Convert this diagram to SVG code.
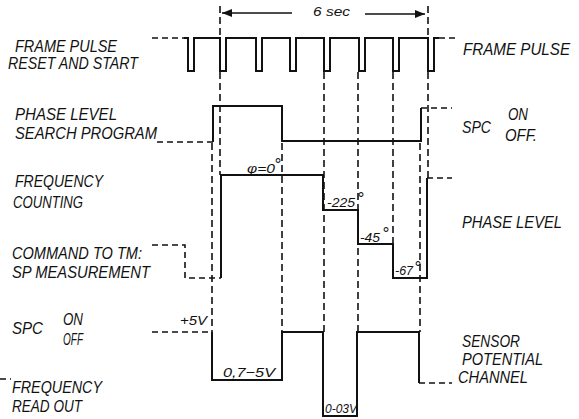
<svg xmlns="http://www.w3.org/2000/svg" width="579" height="419" viewBox="0 0 579 419">
<defs>
<style>
.bg{fill:#fff}
.s{fill:none;stroke:#111;stroke-width:2;stroke-linejoin:miter}
.d{fill:none;stroke:#111;stroke-width:1.6;stroke-dasharray:7 4}
.dh{fill:none;stroke:#111;stroke-width:1.6;stroke-dasharray:6 4}
.t{font-family:"Liberation Sans",Arial,sans-serif;font-style:italic;font-size:16px;fill:#111}
.a{font-family:"Liberation Sans",Arial,sans-serif;font-style:italic;font-size:13px;fill:#111}
.deg{font-size:17px}
.ah{fill:#111}
</style>
<marker id="arr" viewBox="0 0 10 8" refX="10" refY="4" markerWidth="12" markerHeight="8" markerUnits="userSpaceOnUse" orient="auto"><path d="M0 0 L10 4 L0 8 Z" class="ah"/></marker>
</defs>
<rect class="bg" x="0" y="0" width="579" height="419"/>

<g id="connectors">
<line class="s" x1="292" y1="13" x2="222" y2="13" marker-end="url(#arr)" style="stroke-width:1.6"/>
<line class="s" x1="365" y1="14" x2="425" y2="14" marker-end="url(#arr)" style="stroke-width:1.6"/>
<line class="d" x1="220" y1="6" x2="220" y2="175"/>
<line class="d" x1="428" y1="6" x2="428" y2="178"/>
<line class="d" x1="212" y1="143" x2="212" y2="332"/>
<line class="d" x1="282" y1="143" x2="282" y2="332"/>
<line class="d" x1="324" y1="72" x2="324" y2="332"/>
<line class="d" x1="358" y1="72" x2="358" y2="332"/>
<line class="d" x1="393" y1="72" x2="393" y2="244"/>
<line class="d" x1="420" y1="143" x2="420" y2="332"/>
</g>

<g id="frame-pulse">
<line class="dh" x1="152" y1="38" x2="185" y2="38"/>
<path class="s" d="M184 38 H188 V71 H194 V38 H220 V71 H226 V38 H256 V71 H262 V38 H290 V71 H296 V38 H324 V71 H330 V38 H359 V71 H365 V38 H393 V71 H399 V38 H428 V71 H434 V38 H439"/>
<line class="dh" x1="439" y1="38" x2="458" y2="38"/>
<text class="t" x="15" y="52" textLength="102" lengthAdjust="spacingAndGlyphs">FRAME PULSE</text>
<text class="t" x="8" y="69" textLength="130" lengthAdjust="spacingAndGlyphs">RESET AND START</text>
<text class="t" x="463" y="55" textLength="107" lengthAdjust="spacingAndGlyphs">FRAME PULSE</text>
<text class="a" x="313" y="16" textLength="37" lengthAdjust="spacingAndGlyphs">6 sec</text>
</g>

<g id="phase-level-search">
<line class="dh" x1="157" y1="142" x2="213" y2="142"/>
<path class="s" d="M213 142 V106 H282 V141 H421 V108"/>
<line class="dh" x1="421" y1="108" x2="452" y2="108"/>
<text class="t" x="15" y="120" textLength="102" lengthAdjust="spacingAndGlyphs">PHASE LEVEL</text>
<text class="t" x="15" y="139" textLength="142" lengthAdjust="spacingAndGlyphs">SEARCH PROGRAM</text>
<text class="t" x="462" y="133" textLength="29" lengthAdjust="spacingAndGlyphs">SPC</text>
<text class="t" x="508" y="120" textLength="20" lengthAdjust="spacingAndGlyphs">ON</text>
<text class="t" x="505" y="141" textLength="32" lengthAdjust="spacingAndGlyphs">OFF.</text>
</g>

<g id="frequency-counting">
<path class="s" d="M221 278 V175 H323 V210 H358 V244 H393 V278 H427 V178"/>
<line class="dh" x1="427" y1="178" x2="452" y2="178"/>
<text class="t" x="15" y="187" textLength="88" lengthAdjust="spacingAndGlyphs">FREQUENCY</text>
<text class="t" x="13" y="208" textLength="70" lengthAdjust="spacingAndGlyphs">COUNTING</text>
<text class="t" x="462" y="228" textLength="100" lengthAdjust="spacingAndGlyphs">PHASE LEVEL</text>
<text class="a" x="247" y="173" textLength="28" lengthAdjust="spacingAndGlyphs">φ=0</text>
<text class="a deg" x="274" y="170">°</text>
<text class="a" x="327" y="207" textLength="28" lengthAdjust="spacingAndGlyphs">-225</text>
<text class="a deg" x="357" y="204">°</text>
<text class="a" x="360" y="242" textLength="20" lengthAdjust="spacingAndGlyphs">-45</text>
<text class="a deg" x="382" y="239">°</text>
<text class="a" x="395" y="275" textLength="18" lengthAdjust="spacingAndGlyphs">-67</text>
<text class="a deg" x="414" y="273">°</text>
</g>

<g id="command-to-tm">
<path class="dh" d="M152 245 H185 V278 H221"/>
<text class="t" x="12" y="259" textLength="130" lengthAdjust="spacingAndGlyphs">COMMAND TO TM:</text>
<text class="t" x="12" y="278" textLength="138" lengthAdjust="spacingAndGlyphs">SP MEASUREMENT</text>
</g>

<g id="sensor-potential">
<line class="dh" x1="152" y1="332" x2="212" y2="332"/>
<path class="s" d="M212 332 V380 H282 V332 H323 V416 H357 V332 H419 V383"/>
<line class="dh" x1="419" y1="383" x2="452" y2="383"/>
<text class="t" x="12" y="334" textLength="31" lengthAdjust="spacingAndGlyphs">SPC</text>
<text class="t" x="63" y="325" textLength="20" lengthAdjust="spacingAndGlyphs">ON</text>
<text class="t" x="63" y="345" textLength="20" lengthAdjust="spacingAndGlyphs">OFF</text>
<text class="a" x="180" y="325" textLength="27" lengthAdjust="spacingAndGlyphs">+5V</text>
<text class="a" x="223" y="377" textLength="52" lengthAdjust="spacingAndGlyphs">0,7−5V</text>
<text class="a" x="325" y="413" textLength="32" lengthAdjust="spacingAndGlyphs">0-03V</text>
<text class="t" x="462" y="347" textLength="58" lengthAdjust="spacingAndGlyphs">SENSOR</text>
<text class="t" x="462" y="365" textLength="81" lengthAdjust="spacingAndGlyphs">POTENTIAL</text>
<text class="t" x="458" y="383" textLength="70" lengthAdjust="spacingAndGlyphs">CHANNEL</text>
</g>

<g id="frequency-read-out">
<line class="dh" x1="0" y1="379" x2="11" y2="379"/>
<text class="t" x="12" y="393" textLength="90" lengthAdjust="spacingAndGlyphs">FREQUENCY</text>
<text class="t" x="12" y="412" textLength="70" lengthAdjust="spacingAndGlyphs">READ OUT</text>
</g>
</svg>
